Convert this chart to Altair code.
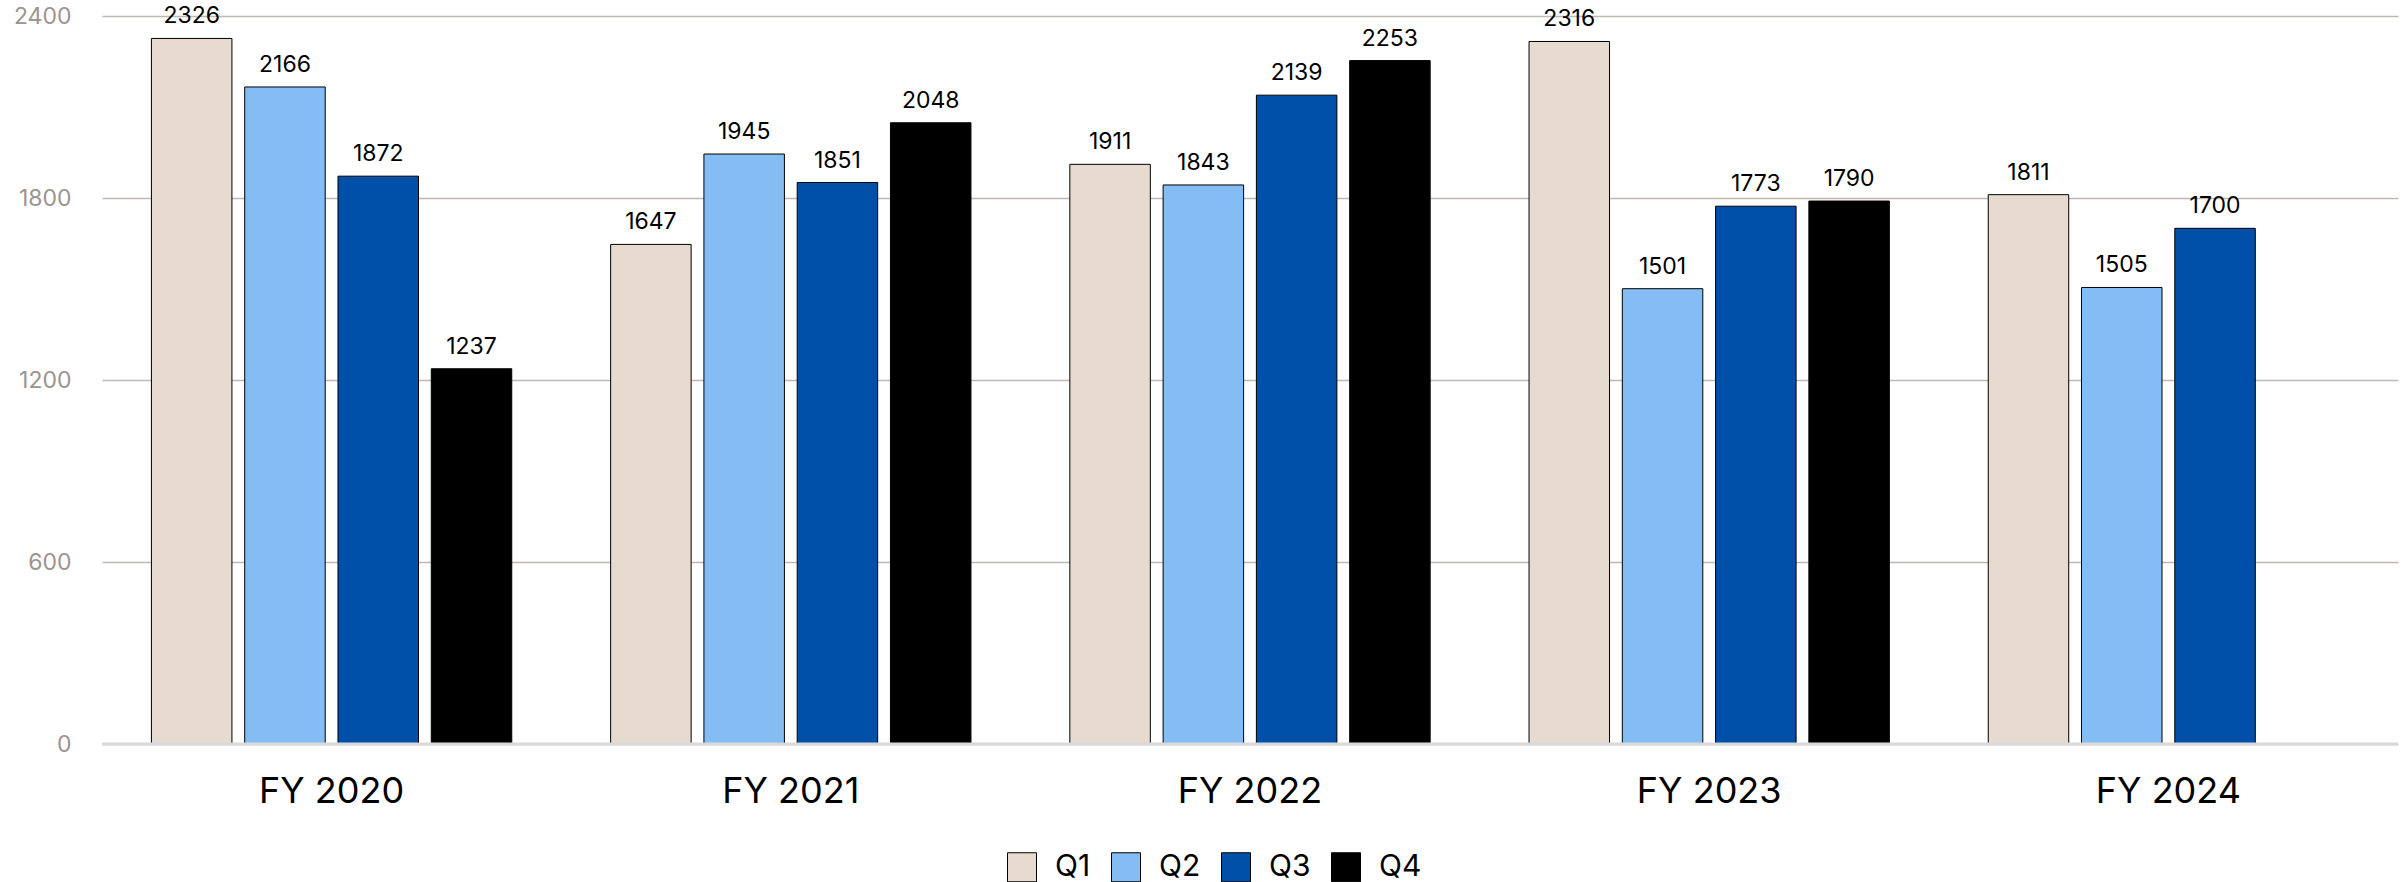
import altair as alt
import pandas as pd

# Quarterly values per fiscal year
years = ["FY 2020", "FY 2021", "FY 2022", "FY 2023", "FY 2024"]
quarters = ["Q1", "Q2", "Q3", "Q4"]
q1 = [2326, 1647, 1911, 2316, 1811]
q2 = [2166, 1945, 1843, 1501, 1505]
q3 = [1872, 1851, 2139, 1773, 1700]
q4 = [1237, 2048, 2253, 1790, None]
y_ticks = [0, 600, 1200, 1800, 2400]
colors = ["#e7dbd0", "#84bdf3", "#0050aa", "#000000"]

rows = []
for q, series in zip(quarters, [q1, q2, q3, q4]):
    for yr, v in zip(years, series):
        if v is not None:
            rows.append({"year": yr, "quarter": q, "value": v})
df = pd.DataFrame(rows)

FONT = "Inter"

x_enc = alt.X(
    "year:N",
    sort=years,
    title="",
    scale=alt.Scale(paddingInner=0, paddingOuter=0),
    axis=alt.Axis(
        labelAngle=0,
        labelFontSize=36,
        labelColor="#000000",
        labelFont=FONT,
        labelPadding=30,
        domain=False,
        ticks=False,
    ),
)
xoff_enc = alt.XOffset(
    "quarter:N",
    sort=quarters,
    scale=alt.Scale(domain=quarters, paddingInner=0.137, paddingOuter=0.53),
)
y_enc = alt.Y(
    "value:Q",
    title="",
    scale=alt.Scale(domain=[0, 2400], nice=False),
    axis=alt.Axis(
        values=y_ticks,
        format="d",
        labelFontSize=23,
        labelColor="#9c948f",
        labelFont=FONT,
        labelPadding=31,
        domain=False,
        ticks=False,
        grid=True,
        gridColor="#bfb8b3",
        gridWidth=1.5,
    ),
)

bars = alt.Chart(df).mark_bar(stroke="#000000", strokeWidth=1).encode(
    x=x_enc,
    xOffset=xoff_enc,
    y=y_enc,
    color=alt.Color(
        "quarter:N",
        sort=quarters,
        scale=alt.Scale(domain=quarters, range=colors),
        legend=alt.Legend(
            title=None,
            orient="none",
            direction="horizontal",
            legendX=905,
            legendY=836,
            padding=0,
            symbolType="square",
            symbolSize=841,
            symbolStrokeColor="#000000",
            symbolStrokeWidth=1,
            labelFontSize=30,
            labelFont=FONT,
            labelColor="#000000",
            labelOffset=18,
            columnPadding=18,
        ),
    ),
)

labels = alt.Chart(df).mark_text(
    baseline="bottom", dy=-10, fontSize=23, font=FONT, color="#000000"
).encode(
    x=alt.X("year:N", sort=years),
    xOffset=alt.XOffset("quarter:N", sort=quarters),
    y="value:Q",
    text="value:Q",
)

base_df = pd.DataFrame({"value": [0]})
baseline = alt.Chart(base_df).mark_rule(color="#d9d9d9", strokeWidth=3).encode(
    y="value:Q"
)

chart = (
    alt.layer(bars, labels, baseline)
    .properties(
        width=2296,
        height=728,
        autosize=alt.AutoSizeParams(type="none"),
        padding={"left": 102, "top": 16, "right": 9, "bottom": 138},
        background="#ffffff",
    )
    .configure_view(strokeWidth=0)
)

chart.save("out.html", embed_options={"renderer": "svg", "actions": False})
